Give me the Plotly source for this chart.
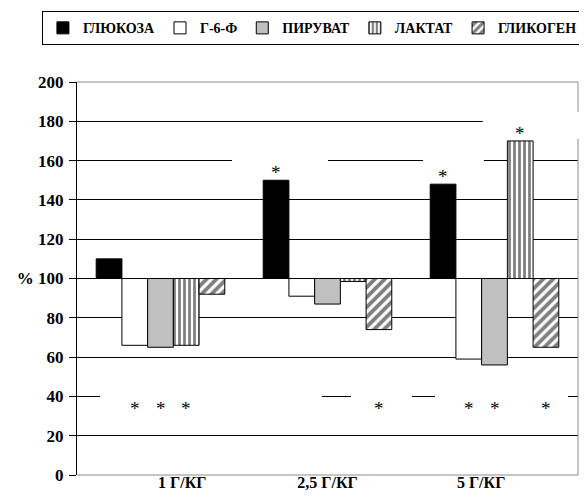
import plotly.graph_objects as go

# ---------------- data ----------------
categories = ["1 Г/КГ", "2,5 Г/КГ", "5 Г/КГ"]
series_names = ["ГЛЮКОЗА", "Г-6-Ф", "ПИРУВАТ", "ЛАКТАТ", "ГЛИКОГЕН"]

glucose = [110, 150, 148]
g6f = [66, 91, 59]
pyruvate = [65, 87, 56]
lactate = [66, 98.5, 170]
glycogen = [92, 74, 65]

baseline = 100

y_tick_values = [0, 20, 40, 60, 80, 100, 120, 140, 160, 180, 200]
y_tick_labels = ["0", "20", "40", "60", "80", "% 100", "120", "140", "160", "180", "200"]

# significance marks: (category index, series index)
marks_above = [(1, 0), (2, 0), (2, 3)]
marks_below = [(0, 1), (0, 2), (0, 3), (1, 4), (2, 1), (2, 2), (2, 4)]
marks_below_level = 34

SERIF = "Liberation Serif"

# ---------------- figure ----------------
all_series = [glucose, g6f, pyruvate, lactate, glycogen]
xpos = list(range(len(categories)))

styles = [
    dict(color="black"),
    dict(color="white"),
    dict(color="#c0c0c0"),
    dict(color="white", pattern=dict(shape="|", fgcolor="black", bgcolor="white",
                                     size=5, solidity=0.55, fillmode="overlay")),
    dict(color="white", pattern=dict(shape="/", fgcolor="black", bgcolor="white",
                                     size=7, solidity=0.55, fillmode="overlay")),
]

fig = go.Figure()
for name, vals, st in zip(series_names, all_series, styles):
    fig.add_trace(go.Bar(
        x=xpos,
        y=[v - baseline for v in vals],
        base=baseline,
        name="<b>" + name + "</b>",
        marker=dict(line=dict(color="black", width=1), **st),
        hoverinfo="skip",
    ))

bargap = 0.23
n_series = len(series_names)
bar_w = (1 - bargap) / n_series


def bar_center(ci, si):
    return ci + (si - (n_series - 1) / 2) * bar_w


annotations = []
for ci, si in marks_above:
    annotations.append(dict(x=bar_center(ci, si), y=all_series[si][ci], xref="x", yref="y",
                            text="*", showarrow=False, yanchor="bottom", yshift=-5,
                            font=dict(family=SERIF, size=19, color="black")))
for ci, si in marks_below:
    annotations.append(dict(x=bar_center(ci, si), y=marks_below_level, xref="x", yref="y",
                            text="*", showarrow=False, yanchor="middle",
                            font=dict(family=SERIF, size=19, color="black")))

# white text-box backgrounds that interrupt the grid lines (decoration)
gap_boxes_axis = [
    (-0.362, 0.967, 33, 47),
    (1.141, 1.506, 33, 47),
    (1.644, 2.440, 33, 47),
    (0.428, 1.003, 152, 168),
    (1.572, 1.937, 152, 168),
]

shapes = [
    # grey plot frame (top, right, bottom)
    dict(type="path", xref="paper", yref="paper", path="M0,1 L1,1 L1,0 L0,0",
         line=dict(color="#8c8c8c", width=1), layer="above"),
]
for x0, x1, y0, y1 in gap_boxes_axis:
    shapes.append(dict(type="rect", xref="x", yref="y", x0=x0, x1=x1, y0=y0, y1=y1,
                       fillcolor="white", line=dict(width=0), layer="above"))
shapes.append(dict(type="rect", xref="paper", yref="paper", x0=0.81, x1=1.015, y0=0.855, y1=0.924,
                   fillcolor="white", line=dict(width=0), layer="above"))

label_offsets = [0.13, 0.0, -0.08]

# page has an 8px body margin, so the figure is 8px smaller than the window
fig.update_layout(
    width=579, height=489,
    margin=dict(l=69, r=9, t=74, b=22, autoexpand=False),
    paper_bgcolor="white", plot_bgcolor="white",
    barmode="group", bargap=bargap, bargroupgap=0,
    font=dict(family=SERIF, size=16, color="black"),
    showlegend=True,
    legend=dict(orientation="h", x=-0.07, xanchor="left", y=1.18, yanchor="top",
                bgcolor="white", bordercolor="black", borderwidth=1,
                font=dict(family=SERIF, size=14, color="black"),
                traceorder="normal"),
    xaxis=dict(range=[-0.5, 2.5], tickvals=[i + o for i, o in zip(xpos, label_offsets)],
               ticktext=["<b>" + c + "</b>" for c in categories],
               showgrid=False, zeroline=False, showline=False, ticklabelstandoff=-4,
               ticks="", tickfont=dict(family=SERIF, size=16), fixedrange=True),
    yaxis=dict(range=[0, 200], tickvals=y_tick_values,
               ticktext=["<b>" + t + "</b>" for t in y_tick_labels],
               showgrid=True, gridcolor="black", gridwidth=1, zeroline=False,
               showline=True, linecolor="black", linewidth=1,
               ticks="outside", ticklen=7, tickcolor="black", ticklabelstandoff=2,
               tickfont=dict(family=SERIF, size=17), fixedrange=True),
    shapes=shapes,
    annotations=annotations,
)

fig.write_html("out.html")
